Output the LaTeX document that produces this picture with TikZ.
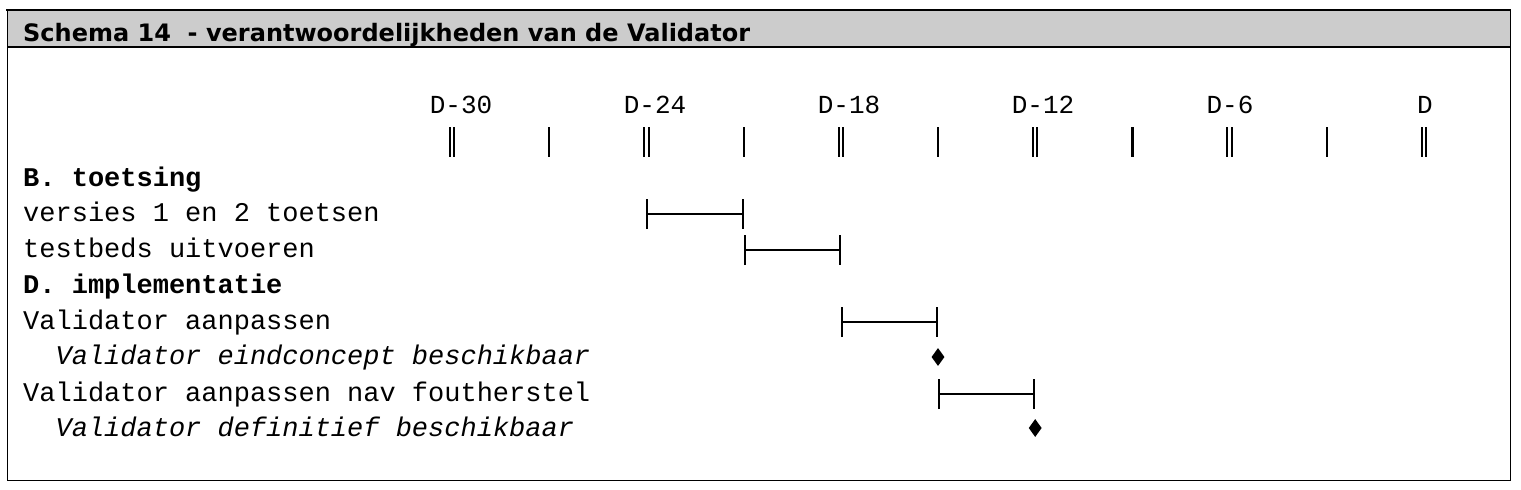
\documentclass[tikz,border=0pt]{standalone}
\usepackage{fontspec}
\setmainfont{Liberation Mono}
\newfontfamily\headfont{DejaVu Sans}
\usetikzlibrary{arrows.meta,shapes.geometric}

\begin{document}
\begin{tikzpicture}[x=1pt, y=-1pt,
	row/.style={anchor=base west, inner sep=0, font=\fontsize{27}{32}\selectfont},
	day/.style={anchor=base, inner sep=0, font=\fontsize{26}{32}\selectfont},
	stick/.style={line width=2.2pt},
	dstick/.style={double, double distance=2.4pt, line width=2pt},
	span/.style={line width=1.6pt, {Bar[width=30pt, line width=2pt]}-{Bar[width=30pt, line width=2pt]}},
	mile/.style={shape=diamond, fill=black, inner sep=0, minimum width=13pt, minimum height=18pt}]
	\useasboundingbox (0, 0) rectangle (1521, 490);
	% frame and header
	\fill [black!20] (7, 10) rectangle (1510, 47);
	\draw [line width=1pt] (7, 10) rectangle (1510, 480);
	\draw [line width=2.5pt] (6, 10) -- (1511, 10);
	\draw [line width=1.5pt] (7, 47) -- (1510, 47);
	\node [anchor=base west, inner sep=0, font=\headfont\bfseries\fontsize{24}{26}\selectfont] (title) at (23, 41) {Schema 14\ \ - verantwoordelijkheden van de Validator};
	% time axis
	\coordinate (t0) at (452, 142);
	\coordinate (t1) at (549.2, 142);
	\coordinate (t2) at (646.4, 142);
	\coordinate (t3) at (743.6, 142);
	\coordinate (t4) at (840.8, 142);
	\coordinate (t5) at (938, 142);
	\coordinate (t6) at (1035.2, 142);
	\coordinate (t7) at (1132.4, 142);
	\coordinate (t8) at (1229.6, 142);
	\coordinate (t9) at (1326.8, 142);
	\coordinate (t10) at (1424, 142);
	\draw [dstick] ([yshift=15pt]t0) -- ([yshift=-15pt]t0);
	\draw [stick] ([yshift=15pt]t1) -- ([yshift=-15pt]t1);
	\draw [dstick] ([yshift=15pt]t2) -- ([yshift=-15pt]t2);
	\draw [stick] ([yshift=15pt]t3) -- ([yshift=-15pt]t3);
	\draw [dstick] ([yshift=15pt]t4) -- ([yshift=-15pt]t4);
	\draw [stick] ([yshift=15pt]t5) -- ([yshift=-15pt]t5);
	\draw [dstick] ([yshift=15pt]t6) -- ([yshift=-15pt]t6);
	\draw [stick] ([yshift=15pt]t7) -- ([yshift=-15pt]t7);
	\draw [dstick] ([yshift=15pt]t8) -- ([yshift=-15pt]t8);
	\draw [stick] ([yshift=15pt]t9) -- ([yshift=-15pt]t9);
	\draw [dstick] ([yshift=15pt]t10) -- ([yshift=-15pt]t10);
	\node [day] (d30) at (461, 113) {D-30};
	\node [day] (d24) at (655, 113) {D-24};
	\node [day] (d18) at (849, 113) {D-18};
	\node [day] (d12) at (1043, 113) {D-12};
	\node [day] (d6) at (1230, 113) {D-6};
	\node [day] (d0) at (1425, 113) {D};
	% rows
	\node [row, font=\fontsize{27}{32}\selectfont\bfseries] (r1) at (23, 186) {B. toetsing};
	\node [row] (r2) at (23, 221) {versies 1 en 2 toetsen};
	\node [row] (r3) at (23, 257) {testbeds uitvoeren};
	\node [row, font=\fontsize{27}{32}\selectfont\bfseries] (r4) at (23, 293) {D. implementatie};
	\node [row] (r5) at (23, 329) {Validator aanpassen};
	\node [row, font=\fontsize{27}{32}\selectfont\itshape] (r6) at (55.4, 364) {Validator eindconcept beschikbaar};
	\node [row] (r7) at (23, 401) {Validator aanpassen nav foutherstel};
	\node [row, font=\fontsize{27}{32}\selectfont\itshape] (r8) at (55.4, 436) {Validator definitief beschikbaar};
	% bars and milestones
	\coordinate (b1) at (t2 |- 0, 214);
	\coordinate (e1) at (t3 |- 0, 214);
	\coordinate (b2) at (t3 |- 0, 250);
	\coordinate (e2) at (t4 |- 0, 250);
	\coordinate (b3) at (t4 |- 0, 322);
	\coordinate (e3) at (t5 |- 0, 322);
	\coordinate (b4) at (t5 |- 0, 394);
	\coordinate (e4) at (t6 |- 0, 394);
	\draw [span] (b1) -- (e1);
	\draw [span] (b2) -- (e2);
	\draw [span] (b3) -- (e3);
	\draw [span] (b4) -- (e4);
	\node [mile] (m1) at (t5 |- 0, 357) {};
	\node [mile] (m2) at (t6 |- 0, 428) {};
\end{tikzpicture}
\end{document}
